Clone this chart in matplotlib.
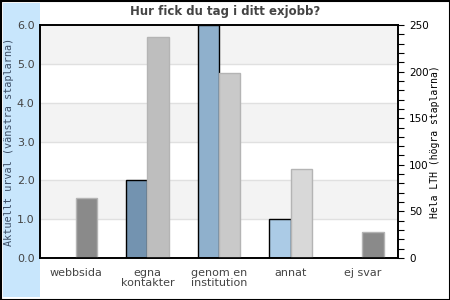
import matplotlib.pyplot as plt
from matplotlib.patches import Rectangle
from matplotlib.ticker import MultipleLocator, FormatStrFormatter

# data
categories = ['webbsida', 'egna\nkontakter', 'genom en\ninstitution', 'annat', 'ej svar']
urval = [0, 2, 6, 1, 0]            # vänstra staplarna
hela_lth = [64, 237, 199, 96, 28]  # högra staplarna

left_colors = ['#6f8fab', '#7393b0', '#8fb0cc', '#abcbe6', '#6f8fab']
right_colors = ['#8a8a8a', '#bebebe', '#c9c9c9', '#d8d8d8', '#8a8a8a']

fig = plt.figure(figsize=(4.5, 3), dpi=100)
fig.patch.set_facecolor('white')

# blå remsa till vänster + ram (bakom axlarna)
fig.patches.append(Rectangle((3/450, 3/300), 37/450, 294/300, transform=fig.transFigure,
                             facecolor='#c8e6fc', edgecolor='none', zorder=-2))
fig.patches.append(Rectangle((0.5/450, 0.5/300), 449/450, 299/300, transform=fig.transFigure,
                             facecolor='none', edgecolor='black', linewidth=1.5, zorder=-1))

ax = fig.add_axes([40/450, 42/300, 358/450, 233/300])
ax.set_facecolor('white')
for lo in [1, 3, 5]:
    ax.axhspan(lo, lo + 1, color='#f3f3f3', zorder=0, lw=0)
for y in range(1, 6):
    ax.axhline(y, color='#e0e0e0', lw=1, zorder=0.5)

x = range(len(categories))
w = 0.3
ax.bar([i - w/2 for i in x], urval, width=w, color=left_colors, edgecolor='black', linewidth=1, zorder=2)
ax.set_xlim(-0.5, len(categories) - 0.5)
ax.set_ylim(0, 6)
ax.yaxis.set_major_locator(MultipleLocator(1))
ax.yaxis.set_major_formatter(FormatStrFormatter('%.1f'))
ax.tick_params(axis='y', length=0, pad=4, labelsize=8, labelcolor='#444444')
ax.set_xticks(list(x))
ax.set_xticklabels(categories, fontsize=8, color='#444444', linespacing=1.05)
ax.tick_params(axis='x', length=0, pad=7)
ax.set_ylabel('Aktuellt urval (vänstra staplarna)', family='DejaVu Sans Mono', fontsize=7.4,
              color='#3d4f66')
ax.yaxis.set_label_coords(-26/358, 0.5)

ax2 = ax.twinx()
ax2.bar([i + w/2 for i in x], hela_lth, width=w, color=right_colors, edgecolor='#b4b4b4', linewidth=1, zorder=2)
ax2.set_ylim(0, 250)
ax2.yaxis.set_major_locator(MultipleLocator(50))
ax2.yaxis.set_minor_locator(MultipleLocator(10))
ax2.tick_params(axis='y', which='both', length=4, width=0.8, direction='out', labelsize=7.5, pad=4)
ax2.set_ylabel('Hela LTH (högra staplarna)', family='DejaVu Sans Mono', fontsize=7, color='black')
ax2.yaxis.set_label_coords(1 + 32/358, 0.5)

for a in (ax, ax2):
    for s in a.spines.values():
        s.set_linewidth(1.2)
        s.set_color('black')

fig.text(0.5, 1 - 12/300, 'Hur fick du tag i ditt exjobb?', ha='center', va='center',
         fontsize=8.5, fontweight='bold', color='#444444')

fig.savefig('out.png', dpi=100)
